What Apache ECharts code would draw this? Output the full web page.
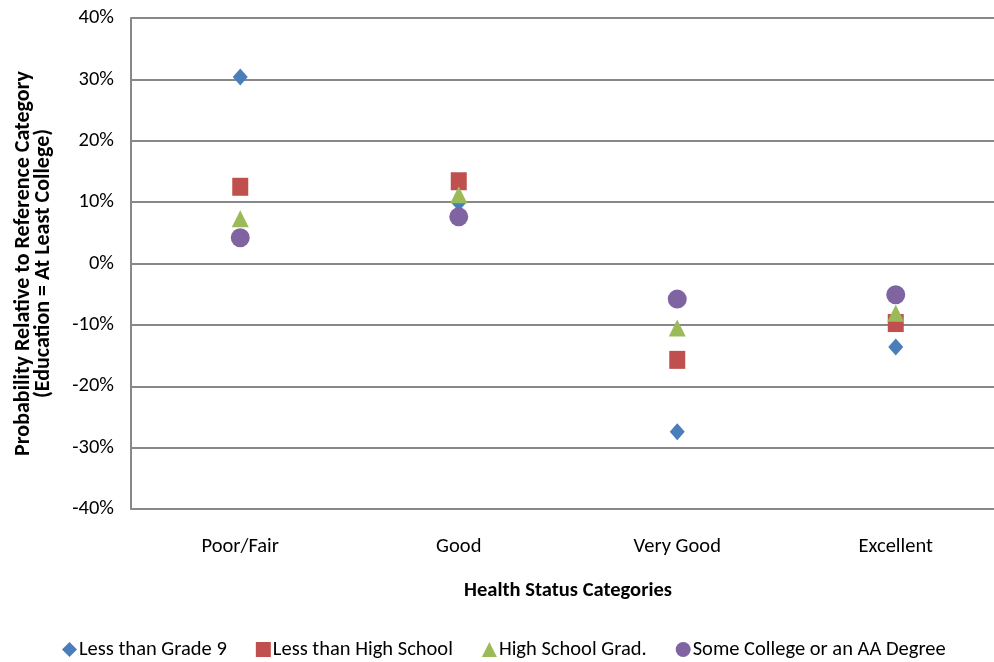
<!DOCTYPE html>
<html>
<head>
<meta charset="utf-8">
<script src="https://cdn.jsdelivr.net/npm/echarts@6/dist/echarts.min.js"></script>
<style>
  html, body { margin: 0; padding: 0; background: #fff; }
  #chart { width: 994px; height: 662px; }
</style>
</head>
<body>
<div id="chart"></div>
<script>
// Health status categories on the x axis
const categories = ['Poor/Fair', 'Good', 'Very Good', 'Excellent'];

// Probability relative to the reference category (percent)
const lessThanGrade9 = [30.4, 9.9, -27.4, -13.6];
const lessThanHighSchool = [12.5, 13.4, -15.7, -9.7];
const highSchoolGrad = [7.3, 11.2, -10.5, -8.1];
const someCollege = [4.2, 7.6, -5.8, -5.1];

const seriesNames = ['Less than Grade 9', 'Less than High School', 'High School Grad.', 'Some College or an AA Degree'];

const font = 'Carlito, "Liberation Sans Narrow", "Liberation Sans", sans-serif';

const chart = echarts.init(document.getElementById('chart'), null, { renderer: 'canvas' });

function scatterSeries(name, data, symbol, size, color) {
  return {
    name: name,
    type: 'scatter',
    data: data,
    symbol: symbol,
    symbolSize: size,
    itemStyle: { color: color, opacity: 1 },
    emphasis: { disabled: true }
  };
}

chart.setOption({
  animation: false,
  textStyle: { fontFamily: font },
  grid: { left: 131, top: 18, width: 874, height: 491, containLabel: false, outerBoundsMode: 'none' },
  legend: {
    top: 634,
    left: 57,
    itemGap: 29,
    itemWidth: 15,
    itemHeight: 15,
    textStyle: { fontFamily: font, fontSize: 20.5, color: '#000', padding: [0, 0, 0, -3] },
    data: [
      { name: seriesNames[0], icon: 'diamond' },
      { name: seriesNames[1], icon: 'rect' },
      { name: seriesNames[2], icon: 'triangle' },
      { name: seriesNames[3], icon: 'circle' }
    ]
  },
  xAxis: {
    type: 'category',
    data: categories,
    boundaryGap: true,
    name: 'Health Status Categories',
    nameLocation: 'middle',
    nameGap: 71,
    nameTextStyle: { fontFamily: font, fontSize: 20.5, fontWeight: 'bold', color: '#000' },
    axisLine: { lineStyle: { color: '#888', width: 2 } },
    axisTick: { show: false },
    axisLabel: { margin: 27, fontSize: 20.5, color: '#000', fontFamily: font },
    splitLine: { show: false }
  },
  yAxis: {
    type: 'value',
    min: -40,
    max: 40,
    interval: 10,
    name: 'Probability Relative to Reference Category\n(Education = At Least College)',
    nameLocation: 'middle',
    nameGap: 78,
    nameTextStyle: { fontFamily: font, fontSize: 22, fontWeight: 'bold', color: '#000', lineHeight: 20 },
    axisLine: { show: true, lineStyle: { color: '#888', width: 2 } },
    axisTick: { show: false },
    axisLabel: { margin: 17, fontSize: 20.5, color: '#000', fontFamily: font, formatter: v => v + '%' },
    splitLine: { show: true, lineStyle: { color: '#888', width: 2 } }
  },
  series: [
    scatterSeries(seriesNames[0], lessThanGrade9, 'diamond', [15, 17], '#4A7EBB'),
    scatterSeries(seriesNames[1], lessThanHighSchool, 'rect', [16, 18], '#C0504D'),
    scatterSeries(seriesNames[2], highSchoolGrad, 'triangle', 17, '#9BBB59'),
    scatterSeries(seriesNames[3], someCollege, 'circle', 19, '#8064A2')
  ]
});
</script>
</body>
</html>
